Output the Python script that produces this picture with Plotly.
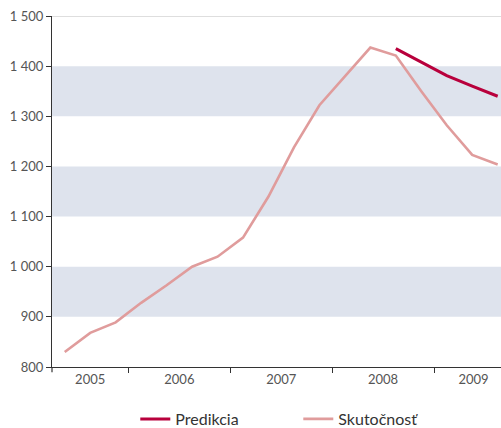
import plotly.graph_objects as go

# Quarterly series; x is the quarter index counted from 2005 Q1 (= 0), points sit at quarter midpoints
quarters_actual = [1.5, 2.5, 3.5, 4.5, 5.5, 6.5, 7.5, 8.5, 9.5, 10.5, 11.5,
                   12.5, 13.5, 14.5, 15.5, 16.5, 17.5, 18.5]
actual = [830, 868, 889, 928, 963, 1000, 1020, 1058, 1140, 1238, 1322,
          1380, 1437, 1421, 1350, 1282, 1223, 1204]

quarters_pred = [14.5, 15.5, 16.5, 17.5, 18.5]
prediction = [1435, 1408, 1381, 1360, 1340]

years = ["2005", "2006", "2007", "2008", "2009"]
year_label_pos = [2.5, 6, 10, 14, 17.55]

y_ticks = [800, 900, 1000, 1100, 1200, 1300, 1400, 1500]
y_tick_text = ["800", "900", "1 000", "1 100", "1 200", "1 300", "1 400", "1 500"]
bands = [(900, 1000), (1100, 1200), (1300, 1400)]

fig = go.Figure()
fig.add_trace(go.Scatter(x=quarters_pred, y=prediction, mode="lines", name="Predikcia",
                         line=dict(color="#b8003c", width=3)))
fig.add_trace(go.Scatter(x=quarters_actual, y=actual, mode="lines", name="Skutočnosť",
                         line=dict(color="#e09c9c", width=2.6)))

shapes = []
for lo, hi in bands:
    shapes.append(dict(type="rect", xref="paper", yref="y", x0=0, x1=1, y0=lo, y1=hi,
                       fillcolor="#dee3ed", line=dict(width=0), layer="below"))
shapes.append(dict(type="line", xref="paper", yref="y", x0=0, x1=1, y0=1500, y1=1500,
                   line=dict(color="#bdbdbd", width=1.2), layer="below"))
# small downward extension of the y axis below the x axis
shapes.append(dict(type="line", xref="paper", yref="paper", x0=0, x1=0, y0=0, y1=-0.015,
                   line=dict(color="#333333", width=1.2)))
fig.update_layout(shapes=shapes)

fig.update_layout(
    width=501, height=428,
    margin=dict(l=52, r=0, t=16, b=61, autoexpand=False),
    paper_bgcolor="white", plot_bgcolor="white",
    font=dict(family="Lato, Open Sans, sans-serif", color="#555555"),
    showlegend=True,
    legend=dict(orientation="h", x=0.1855, xanchor="left",
                yref="container", y=0.021, yanchor="middle",
                font=dict(size=16, color="#333333"), entrywidth=118,
                entrywidthmode="pixels", itemwidth=30),
    xaxis=dict(range=[1, 18.63], showgrid=False, zeroline=False,
               showline=True, linecolor="#333333", linewidth=1.2,
               tickmode="array", tickvals=year_label_pos, ticktext=years,
               ticks="", tickfont=dict(size=13, color="#555555"),
               minor=dict(tick0=0, dtick=4, ticks="outside", ticklen=5,
                          tickcolor="#333333", tickwidth=1.2, showgrid=False)),
    yaxis=dict(range=[800, 1500], showgrid=False, zeroline=False,
               showline=True, linecolor="#333333", linewidth=1.2,
               tickmode="array", tickvals=y_ticks, ticktext=y_tick_text,
               ticks="outside", ticklen=5, tickcolor="#333333", tickwidth=1.2,
               tickfont=dict(size=13, color="#555555")),
)

fig.write_html("out.html")
